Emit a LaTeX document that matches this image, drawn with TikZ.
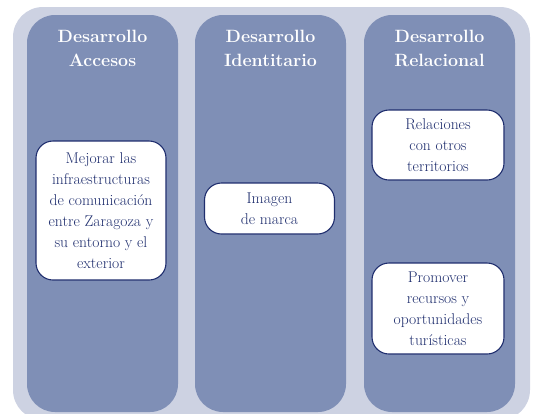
\documentclass[tikz,border=0pt]{standalone}
\definecolor{outerbg}{HTML}{CDD2E2}
\definecolor{colfill}{HTML}{7F8FB6}
\definecolor{navy}{HTML}{1F2E6E}
\begin{document}
\begin{tikzpicture}[x=1pt,y=-1pt,
  column/.style={fill=colfill, rounded corners=28pt},
  header/.style={text=white, align=center, inner sep=0pt,
    font=\fontsize{17.8}{24}\selectfont\bfseries},
  itembox/.style={draw=navy, line width=1.1pt, fill=white, rounded corners=17pt,
    text=navy, align=center, inner sep=0pt,
    font=\fontsize{15.6}{21}\selectfont}]
\useasboundingbox (0,0) rectangle (538,413);
\clip (0,0) rectangle (538,413);
\fill[outerbg, rounded corners=30pt] (13,7) rectangle (530,420);
\fill[column] (27,15) rectangle (178,412);
\fill[column] (195,15) rectangle (346,412);
\fill[column] (364,15) rectangle (515,412);
\node[header] (h1) at (102.5,48) {Desarrollo\\Accesos};
\node[header] (h2) at (270.5,48) {Desarrollo\\Identitario};
\node[header] (h3) at (439.5,48) {Desarrollo\\Relacional};
\node[itembox, minimum width=130pt, minimum height=139pt] (b1) at (101,210.5)
  {Mejorar las\\infraestructuras\\de comunicación\\entre Zaragoza y\\su entorno y el\\exterior};
\node[itembox, minimum width=130pt, minimum height=51pt] (b2) at (269.5,208.5)
  {Imagen\\de marca};
\node[itembox, minimum width=132pt, minimum height=70pt] (b3) at (438,145)
  {Relaciones\\con otros\\territorios};
\node[itembox, minimum width=132pt, minimum height=91pt] (b4) at (438,308.5)
  {Promover\\recursos y\\oportunidades\\turísticas};
\end{tikzpicture}
\end{document}
